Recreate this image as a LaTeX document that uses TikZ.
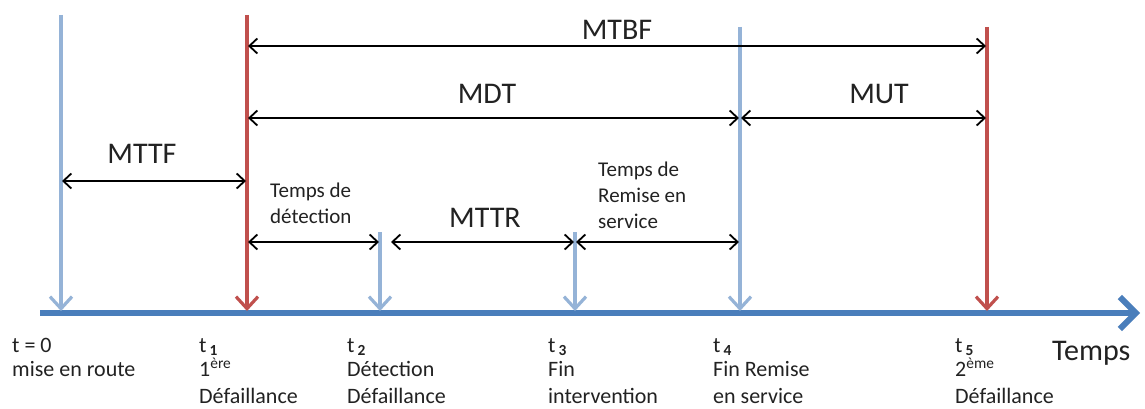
\documentclass[tikz,border=0pt]{standalone}
\usepackage{fontspec}
\setmainfont{Carlito}
\usetikzlibrary{arrows.meta}
\definecolor{axisblue}{HTML}{4A7EBB}
\definecolor{tickblue}{HTML}{95B3D7}
\definecolor{failred}{HTML}{C0504D}
\definecolor{txt}{HTML}{222222}
\tikzset{
  axisline/.style={draw=axisblue, line width=5.5pt, -{Straight Barb[length=16pt,width=32pt,line width=6pt]}},
  evline/.style={line width=3.2pt, -{Straight Barb[length=12pt,width=22pt]}},
  okev/.style={evline, draw=tickblue},
  failev/.style={evline, draw=failred},
  span/.style={draw=black, line width=1.8pt, {Straight Barb[length=8pt,width=15pt]}-{Straight Barb[length=8pt,width=15pt]}},
  big/.style={inner sep=0pt, anchor=base, text=txt, font=\fontsize{30}{32}\selectfont},
  small/.style={inner sep=0pt, anchor=base west, text=txt, font=\fontsize{21}{25}\selectfont},
  bot/.style={inner sep=0pt, anchor=base west, text=txt, font=\fontsize{22}{26}\selectfont},
}
\begin{document}
\begin{tikzpicture}[x=1pt,y=-1pt]
\useasboundingbox[fill=white] (0,0) rectangle (1145,409);
% axis
\coordinate (ax0) at (40,313);
\coordinate (ax1) at (1140,313);
\draw[axisline] (ax0) -- (ax1);
% event lines
\coordinate (e0top) at (61,15);   \coordinate (e0) at (61,311);
\coordinate (e1top) at (247,15);  \coordinate (e1) at (247,311);
\coordinate (e2top) at (380,232); \coordinate (e2) at (380,311);
\coordinate (e3top) at (575,232); \coordinate (e3) at (575,311);
\coordinate (e4top) at (740,27);  \coordinate (e4) at (740,311);
\coordinate (e5top) at (987,27);  \coordinate (e5) at (987,311);
\draw[okev] (e0top) -- (e0);
\draw[failev] (e1top) -- (e1);
\draw[okev] (e2top) -- (e2);
\draw[okev] (e3top) -- (e3);
\draw[okev] (e4top) -- (e4);
\draw[failev] (e5top) -- (e5);
% spans
\coordinate (mtbfL) at (248,46);  \coordinate (mtbfR) at (986,46);
\coordinate (mdtL) at (248,118);  \coordinate (mdtR) at (739,118);
\coordinate (mutL) at (741,118);  \coordinate (mutR) at (986,118);
\coordinate (mttfL) at (62,181);  \coordinate (mttfR) at (246,181);
\coordinate (detL) at (248,242);  \coordinate (detR) at (379,242);
\coordinate (mttrL) at (391,242); \coordinate (mttrR) at (574,242);
\coordinate (remL) at (576,242);  \coordinate (remR) at (739,242);
\draw[span] (mtbfL) -- (mtbfR);
\draw[span] (mdtL) -- (mdtR);
\draw[span] (mutL) -- (mutR);
\draw[span] (mttfL) -- (mttfR);
\draw[span] (detL) -- (detR);
\draw[span] (mttrL) -- (mttrR);
\draw[span] (remL) -- (remR);
% span labels
\node[big] (lmtbf) at (617,40) {MTBF};
\node[big] (lmdt) at (487,103) {MDT};
\node[big] (lmut) at (879,103) {MUT};
\node[big] (lmttf) at (142,163) {MTTF};
\node[big] (lmttr) at (485,227) {MTTR};
\node[small] (ldet1) at (270,197) {Temps de};
\node[small] (ldet2) at (270,223) {détection};
\node[small] (lrem1) at (598,176) {Temps de};
\node[small] (lrem2) at (598,202) {Remise en};
\node[small] (lrem3) at (598,228) {service};
% bottom labels
\node[bot] (b0a) at (12,352) {t = 0};
\node[bot] (b0b) at (12,376) {mise en route};
\node[bot] (b1a) at (199,352) {t\hspace{3pt}\textsubscript{\textbf{1}}};
\node[bot] (b1b) at (199,376) {1\textsuperscript{ère}};
\node[bot] (b1c) at (199,403) {Défaillance};
\node[bot] (b2a) at (347,352) {t\hspace{3pt}\textsubscript{\textbf{2}}};
\node[bot] (b2b) at (347,376) {Détection};
\node[bot] (b2c) at (347,403) {Défaillance};
\node[bot] (b3a) at (548,352) {t\hspace{3pt}\textsubscript{\textbf{3}}};
\node[bot] (b3b) at (548,376) {Fin};
\node[bot] (b3c) at (548,403) {intervention};
\node[bot] (b4a) at (713,352) {t\hspace{3pt}\textsubscript{\textbf{4}}};
\node[bot] (b4b) at (713,376) {Fin Remise};
\node[bot] (b4c) at (713,403) {en service};
\node[bot] (b5a) at (955,352) {t\hspace{3pt}\textsubscript{\textbf{5}}};
\node[bot] (b5b) at (955,376) {2\textsuperscript{ème}};
\node[bot] (b5c) at (955,403) {Défaillance};
\node[inner sep=0pt, anchor=base west, text=txt, font=\fontsize{30}{32}\selectfont] (temps) at (1052,360) {Temps};
\end{tikzpicture}
\end{document}
